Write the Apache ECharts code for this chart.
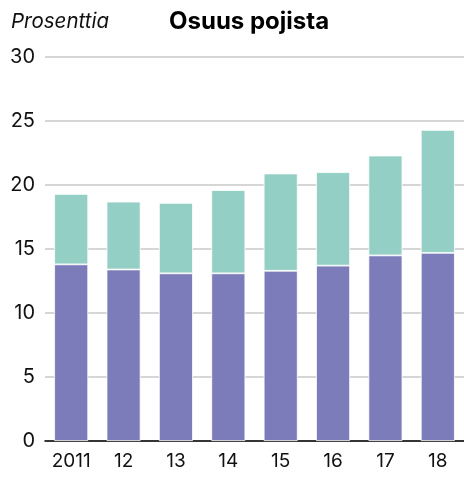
<!DOCTYPE html>
<html>
<head>
<meta charset="utf-8">
<script src="https://cdn.jsdelivr.net/npm/echarts@6/dist/echarts.min.js"></script>
<style>
  html, body { margin: 0; padding: 0; background: #fff; }
  #chart { width: 464px; height: 477px; }
</style>
</head>
<body>
<div id="chart"></div>
<script>
// vuodet
var years = ['2011', '12', '13', '14', '15', '16', '17', '18'];
// alempi osa (violetti)
var lower = [13.8, 13.4, 13.1, 13.1, 13.3, 13.7, 14.5, 14.7];
// ylempi osa (turkoosi)
var upper = [5.5, 5.3, 5.5, 6.5, 7.6, 7.3, 7.8, 9.6];

var font = 'Inter, Roboto, sans-serif';
var myChart = echarts.init(document.getElementById('chart'));

var option = {
    animation: false,
    title: [
        {
            text: 'Osuus pojista',
            left: 164, top: 5,
            textStyle: { fontFamily: font, fontSize: 24, fontWeight: 'bold', color: '#000' }
        },
        {
            text: 'Prosenttia',
            left: 6, top: 7,
            textStyle: { fontFamily: font, fontSize: 20.5, fontStyle: 'italic', fontWeight: 'normal', color: '#111' }
        }
    ],
    grid: { left: 45, top: 57, width: 423, bottom: 36, containLabel: false },
    xAxis: {
        type: 'category',
        data: years,
        axisTick: { show: false },
        axisLine: { lineStyle: { color: '#000', width: 1.5 } },
        axisLabel: { fontFamily: font, fontSize: 19, color: '#111', margin: 11 }
    },
    yAxis: {
        type: 'value',
        min: 0, max: 30, interval: 5,
        axisLine: { show: false },
        axisTick: { show: false },
        splitLine: { lineStyle: { color: '#c8c8c8', width: 1.5 } },
        axisLabel: { fontFamily: font, fontSize: 20, color: '#111', margin: 10 }
    },
    series: [
        {
            type: 'bar', stack: 'a', data: lower, barWidth: 34,
            itemStyle: { color: '#7b7cb9', borderColor: '#fff', borderWidth: 0.8 }
        },
        {
            type: 'bar', stack: 'a', data: upper, barWidth: 34,
            itemStyle: { color: '#93cfc4', borderColor: '#fff', borderWidth: 0.8 }
        }
    ]
};
myChart.setOption(option);
</script>
</body>
</html>
